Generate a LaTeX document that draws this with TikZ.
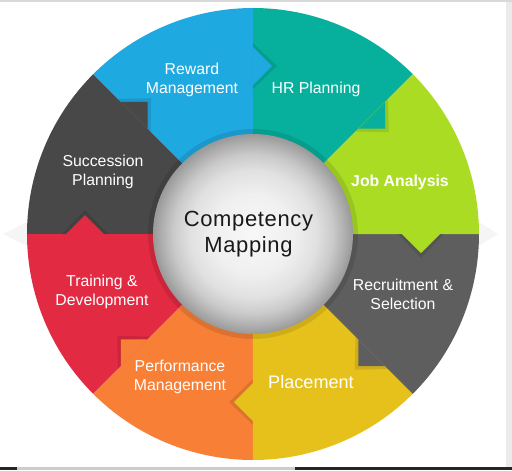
\documentclass[tikz,border=0pt]{standalone}
\usepackage{fontspec}
\setmainfont{Liberation Sans}
\newfontfamily\centrefont[LetterSpace=3]{Liberation Sans}
\usetikzlibrary{calc}

\definecolor{rewardblue}{HTML}{1FA9E1}
\definecolor{hrteal}{HTML}{06B09D}
\definecolor{jobgreen}{HTML}{AADC24}
\definecolor{recruitgray}{HTML}{5E5E5E}
\definecolor{placeyellow}{HTML}{E6C11C}
\definecolor{perforange}{HTML}{F77F36}
\definecolor{trainred}{HTML}{E32A43}
\definecolor{succgray}{HTML}{484848}

\pgfdeclareradialshading{sphere}{\pgfpoint{0bp}{0bp}}{color(0bp)=(black!3); color(10bp)=(black!6); color(16bp)=(black!12); color(20bp)=(black!21); color(23bp)=(black!32); color(25bp)=(black!40); color(50bp)=(black!40)}

\begin{document}
\begin{tikzpicture}[
    segment_label/.style={text=white, align=center, font=\fontsize{9}{10.8}\selectfont},
    centre_label/.style={text=black!90, align=center, font=\centrefont\fontsize{12.5}{14.7}\selectfont},
    tip_shadow/.style={fill=black, opacity=0.1},
    glow/.style={fill=black!4}
]

% Radii of the wheel and the arrow tips
\def\rin{2.0}
\def\rout{4.52}
\def\rtip{3.36}
\def\wtip{0.38}

\useasboundingbox (-5.06,-4.72) rectangle (5.18,4.68);

% Frame of the screenshot
\fill[black!8] (5.06,-4.72) rectangle (5.18,4.68);
\fill[black!15] (-5.06,4.64) rectangle (5.18,4.68);
\fill[black!85] (-5.06,-4.72) rectangle (5.18,-4.66);
\fill[black!20] (-4.72,-4.72) rectangle (0.84,-4.66);

% Side glows
\fill[glow] (-4.5,0.25) -- (-5.0,0) -- (-4.5,-0.25) -- cycle;
\fill[glow] (4.5,0.25) -- (4.9,0) -- (4.5,-0.25) -- cycle;

% Segments
\foreach \a/\col in {45/hrteal, 90/rewardblue, 135/succgray, 180/trainred, 225/perforange, 270/placeyellow, 315/recruitgray, 0/jobgreen} {
    \fill[\col] (0,0) -- (\a:\rout) arc[start angle=\a, end angle=\a+45, radius=\rout] -- cycle;
}

% Arrow tips
\foreach \a/\col in {45/hrteal, 90/rewardblue, 135/succgray, 180/trainred, 225/perforange, 270/placeyellow, 315/recruitgray, 0/jobgreen} {
    \fill[tip_shadow] (\a:{\rtip-\wtip-0.08}) -- ($(\a:\rtip)+({\a-90}:{\wtip+0.1})$) -- (\a:{\rtip+\wtip+0.08}) -- cycle;
    \fill[\col] (\a:{\rtip-\wtip}) -- ($(\a:\rtip)+({\a-90}:\wtip)$) -- (\a:{\rtip+\wtip}) -- cycle;
}

% Centre sphere
\fill[black, opacity=0.1] (0,0) circle ({\rin+0.1});
\shade[shading=sphere] (0,0) circle (\rin);

% Labels
\node[segment_label] (reward) at (-1.22,3.08) {Reward\\Management};
\node[segment_label] (hr) at (1.26,2.90) {HR Planning};
\node[segment_label, font=\bfseries\fontsize{9}{10.8}\selectfont] (job) at (2.94,1.04) {Job Analysis};
\node[segment_label] (recruit) at (3.00,-1.20) {Recruitment \&\\Selection};
\node[segment_label, font=\fontsize{10.3}{12}\selectfont] (placement) at (1.16,-2.96) {Placement};
\node[segment_label] (performance) at (-1.46,-2.86) {Performance\\Management};
\node[segment_label] (training) at (-3.02,-1.16) {Training \&\\Development};
\node[segment_label] (succession) at (-3.00,1.24) {Succession\\Planning};
\node[centre_label] (centre) at (-0.09,0) {Competency\\Mapping};

\end{tikzpicture}
\end{document}
